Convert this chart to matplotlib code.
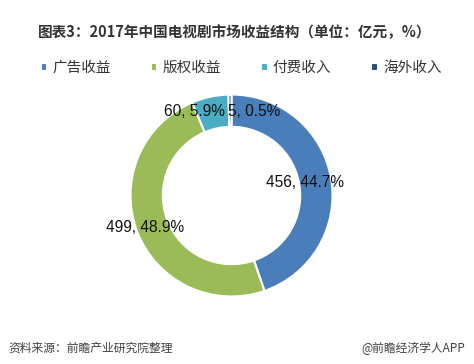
import matplotlib
matplotlib.use("Agg")
from matplotlib import pyplot as plt

plt.rcParams['font.family'] = ['Noto Sans CJK SC', 'DejaVu Sans']

categories = ['广告收益', '版权收益', '付费收入', '海外收入']
values = [456, 499, 60, 5]
colors = ['#4a7ebb', '#9bbb59', '#4bacc6', '#2c4d75']

# label centres in axes data units (radius 1 = outer edge)
label_pos = [(0.73, 0.13), (-0.86, -0.32), (-0.37, 0.83), (0.22, 0.83)]

fig = plt.figure(figsize=(4.74, 3.64), dpi=100)

# pie axes: centre (231.5, 195.5) px, radius 101 px
cx, cy, r = 231.5, 195.5, 101
ax = fig.add_axes([(cx - r) / 474, 1 - (cy + r) / 364, 2 * r / 474, 2 * r / 364])
wedges, _ = ax.pie(values, colors=colors, startangle=90, counterclock=False,
                   radius=1.0, wedgeprops=dict(width=0.32, edgecolor='white', linewidth=1.5))
ax.set_xlim(-1, 1)
ax.set_ylim(-1, 1)
ax.axis('off')

total = sum(values)
for v, (x, y) in zip(values, label_pos):
    ax.text(x, y, "%d, %.1f%%" % (v, v * 100.0 / total), ha='center', va='center',
            fontsize=11.2, family=['Liberation Sans', 'DejaVu Sans'], color='#111111')

fig.text(235 / 474, 1 - 32 / 364, '图表3：2017年中国电视剧市场收益结构（单位：亿元，%）',
         ha='center', va='center', fontsize=10.5, fontweight='bold', color='#333333')

leg = fig.legend(wedges, categories, loc='center', bbox_to_anchor=(241 / 474, 1 - 68 / 364),
                 ncol=4, frameon=False, fontsize=10.5, handlelength=0.45, handleheight=0.45,
                 handletextpad=0.35, columnspacing=2.75, labelcolor='#333333')

fig.text(8 / 474, 1 - 348 / 364, '资料来源：前瞻产业研究院整理', ha='left', va='center',
         fontsize=8.5, color='#404040')
fig.text(465 / 474, 1 - 348 / 364, '@前瞻经济学人APP', ha='right', va='center',
         fontsize=8.5, color='#404040')

fig.savefig('out.png', dpi=100)
